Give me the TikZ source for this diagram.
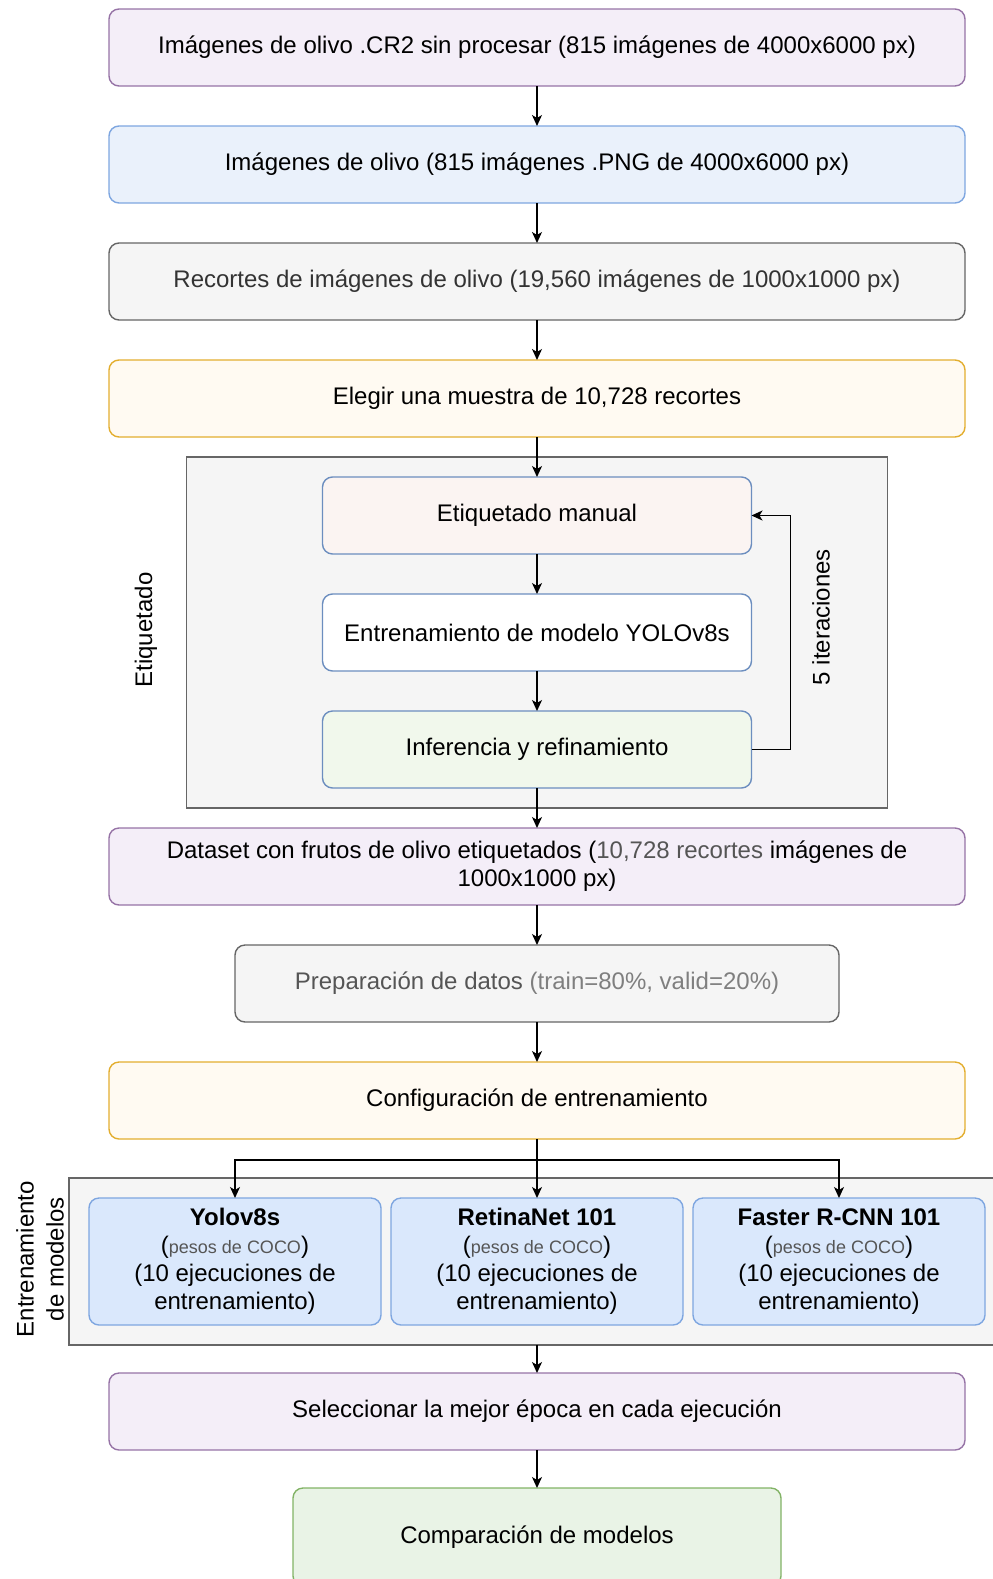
\documentclass[tikz,border=0pt]{standalone}
\usepackage{fontspec}
\setmainfont{Liberation Sans}
\usetikzlibrary{arrows.meta, positioning, fit, backgrounds}
\definecolor{purpfill}{HTML}{F4EEF8}
\definecolor{purpline}{HTML}{9673A6}
\definecolor{bluefill}{HTML}{EAF1FB}
\definecolor{blueline}{HTML}{7EA6E0}
\definecolor{grayfill}{HTML}{F5F5F5}
\definecolor{grayline}{HTML}{666666}
\definecolor{yellfill}{HTML}{FFFAF2}
\definecolor{yellline}{HTML}{E3AE2F}
\definecolor{pinkfill}{HTML}{FBF4F2}
\definecolor{greenfill}{HTML}{F1F8EC}
\definecolor{modelfill}{HTML}{DAE8FC}
\definecolor{compfill}{HTML}{E9F3E6}
\definecolor{compline}{HTML}{82B366}
\definecolor{innerline}{HTML}{6C8EBF}
\definecolor{darktext}{HTML}{333333}
\definecolor{midtext}{HTML}{555555}
\definecolor{lighttext}{HTML}{7F7F7F}
\tikzset{
    block/.style={rectangle, rounded corners=5pt, draw, line width=0.7pt, outer sep=0pt, align=center, minimum height=38.5pt, minimum width=428pt, font=\fontsize{12}{14}\selectfont, inner sep=2pt},
    purp/.style={fill=purpfill, draw=purpline},
    blu/.style={fill=bluefill, draw=blueline},
    gry/.style={fill=grayfill, draw=grayline},
    yel/.style={fill=yellfill, draw=yellline},
    grn/.style={fill=compfill, draw=compline},
    inner/.style={block, minimum width=214.5pt, draw=innerline},
    model/.style={block, minimum width=146pt, minimum height=63.5pt, fill=modelfill, draw=blueline},
    frame/.style={rectangle, draw=grayline, fill=grayfill, line width=0.7pt, outer sep=0pt},
    lbl/.style={font=\fontsize{12}{15}\selectfont},
    arrow/.style={line width=0.7pt, -{Stealth[length=5.5pt, width=5pt, inset=1.5pt]}}
}
\newcommand{\coco}{({\fontsize{9}{14}\selectfont\color{midtext}pesos de COCO})}

\begin{document}
\begin{tikzpicture}[x=0.5pt, y=-0.5pt]
    \useasboundingbox (0,0) rectangle (992,1579);
    \clip (0,0) rectangle (992,1579);

    \node (raw) [block, purp] at (537,47.5) {Imágenes de olivo .CR2 sin procesar (815 imágenes de 4000x6000 px)};
    \node (png) [block, blu, below=20pt of raw] {Imágenes de olivo (815 imágenes .PNG de 4000x6000 px)};
    \node (crops) [block, gry, text=darktext, below=20pt of png] {Recortes de imágenes de olivo (19,560 imágenes de 1000x1000 px)};
    \node (sample) [block, yel, below=20pt of crops] {Elegir una muestra de 10,728 recortes};

    \node (manual) [inner, fill=pinkfill, below=20pt of sample] {Etiquetado manual};
    \node (train) [inner, fill=white, below=20pt of manual] {Entrenamiento de modelo YOLOv8s};
    \node (infer) [inner, fill=greenfill, below=20pt of train] {Inferencia y refinamiento};

    \node (dataset) [block, purp, below=20pt of infer] {Dataset con frutos de olivo etiquetados (\textcolor{midtext}{10,728 recortes} imágenes de\\1000x1000 px)};
    \node (prep) [block, gry, minimum width=302pt, below=20pt of dataset] {\textcolor{midtext}{Preparación de datos} \textcolor{lighttext}{(train=80\%, valid=20\%)}};
    \node (config) [block, yel, below=20pt of prep] {Configuración de entrenamiento};

    \node (retina) [model, below=29.5pt of config] {\textbf{RetinaNet 101}\\\coco\\(10 ejecuciones de\\entrenamiento)};
    \node (yolo) [model, left=5pt of retina] {\textbf{Yolov8s}\\\coco\\(10 ejecuciones de\\entrenamiento)};
    \node (faster) [model, right=5pt of retina] {\textbf{Faster R-CNN 101}\\\coco\\(10 ejecuciones de\\entrenamiento)};

    \node (select) [block, purp, below=24pt of retina] {Seleccionar la mejor época en cada ejecución};
    \node (compare) [block, grn, minimum width=244pt, minimum height=49pt, below=19pt of select] {Comparación de modelos};

    \begin{scope}[on background layer]
        \node (labelbox) [frame, fit=(manual)(infer), inner xsep=68pt, inner ysep=10pt] {};
        \node (modelbox) [frame, fit=(yolo)(faster), inner sep=10pt] {};
    \end{scope}

    \node (labeltxt) [lbl, rotate=90] at (146,630) {Etiquetado};
    \node (itertxt) [lbl, rotate=90] at (821,617) {5 iteraciones};
    \node (modeltxt) [lbl, rotate=90, align=center] at (40,1259) {Entrenamiento\\de modelos};

    \draw [arrow] (raw) -- (png);
    \draw [arrow] (png) -- (crops);
    \draw [arrow] (crops) -- (sample);
    \draw [arrow] (sample) -- (manual);
    \draw [arrow] (manual) -- (train);
    \draw [arrow] (train) -- (infer);
    \draw [arrow] (infer.east) -- ++(39,0) |- (manual.east);
    \draw [arrow] (infer) -- (dataset);
    \draw [arrow] (dataset) -- (prep);
    \draw [arrow] (prep) -- (config);
    \draw [arrow] (config) -- (retina);
    \draw [arrow] (config.south) -- ++(0,21) -| (yolo.north);
    \draw [arrow] (config.south) -- ++(0,21) -| (faster.north);
    \draw [arrow] (modelbox) -- (select);
    \draw [arrow] (select) -- (compare);
\end{tikzpicture}
\end{document}
